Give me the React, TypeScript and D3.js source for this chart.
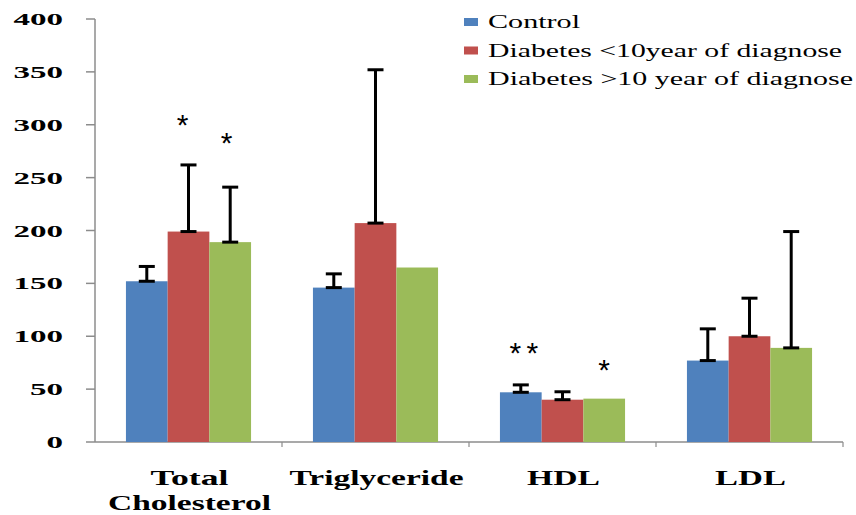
import React from "react";
import * as d3 from "d3";

const categories = ["Total Cholesterol", "Triglyceride", "HDL", "LDL"];
const categoryLines = [["Total", "Cholesterol"], ["Triglyceride"], ["HDL"], ["LDL"]];
const series = ["Control", "Diabetes <10year of diagnose", "Diabetes >10 year of diagnose"];
const controlValues = [152, 146, 47, 77];
const under10Values = [199, 207, 40, 100];
const over10Values = [189, 165, 41, 89];
const controlErr = [14, 13, 7, 30];
const under10Err = [63, 145, 7.5, 36];
const over10Err = [52, 0, 0, 110];
const yTicks = [0, 50, 100, 150, 200, 250, 300, 350, 400];
// significance marks: [categoryIndex, seriesIndex, label, value position]
const marks: [number, number, string, number][] = [
  [0, 1, "*", 302],
  [0, 2, "*", 285],
  [2, 0, "**", 87],
  [2, 2, "*", 71],
];
const markShift = [-6, -3.5, 3, 0];

const colors = ["#4F81BD", "#C0504D", "#9BBB59"];
const valuesBySeries = [controlValues, under10Values, over10Values];
const errBySeries = [controlErr, under10Err, over10Err];

const W = 856;
const H = 515;
const left = 95;
const right = 843;
const top = 19;
const bottom = 442;

const serifFont = "'Liberation Serif', 'Times New Roman', serif";

// measured stretched text widths
const xLabelWidths: Record<string, number> = {
  Total: 78,
  Cholesterol: 163,
  Triglyceride: 174,
  HDL: 73,
  LDL: 71,
};
const legendWidths = [92, 354, 365];

export default function App() {
  const y = d3.scaleLinear().domain([0, 400]).range([bottom, top]);
  const x0 = d3.scaleBand<string>().domain(categories).range([left, right]).padding(0);
  const x1 = d3
    .scaleBand<string>()
    .domain(series)
    .range([0, x0.bandwidth()])
    .paddingInner(0)
    .paddingOuter(0.742);
  const bw = x1.bandwidth();
  const axisColor = "#8C8C8C";
  const capW = 16;
  const starSize = 30;

  return (
    <svg
      width={W}
      height={H}
      style={{ position: "absolute", left: 0, top: 0, background: "#fff" }}
    >
      <rect x={0} y={0} width={W} height={H} fill="#fff" />
      {/* y axis */}
      <line x1={left} x2={left} y1={top} y2={bottom} stroke={axisColor} strokeWidth={1.5} />
      {yTicks.map((t) => (
        <g key={t}>
          <line x1={left - 9} x2={left} y1={y(t)} y2={y(t)} stroke={axisColor} strokeWidth={1.5} />
          <text
            x={63}
            y={y(t) + 6}
            textAnchor="end"
            fontFamily={serifFont}
            fontWeight="bold"
            fontSize={17}
            textLength={16.5 * String(t).length}
            lengthAdjust="spacingAndGlyphs"
            fill="#000"
          >
            {t}
          </text>
        </g>
      ))}
      {/* x axis */}
      <line x1={left} x2={right} y1={bottom} y2={bottom} stroke={axisColor} strokeWidth={1.5} />
      {categories.map((c) => (
        <line
          key={c}
          x1={(x0(c) as number) + x0.bandwidth()}
          x2={(x0(c) as number) + x0.bandwidth()}
          y1={bottom}
          y2={bottom + 5}
          stroke={axisColor}
          strokeWidth={1.2}
        />
      ))}
      {/* bars */}
      {series.map((s, si) =>
        categories.map((c, ci) => {
          const v = valuesBySeries[si][ci];
          const bx = (x0(c) as number) + (x1(s) as number);
          return (
            <rect
              key={s + c}
              x={bx}
              y={y(v)}
              width={bw}
              height={y(0) - y(v)}
              fill={colors[si]}
            />
          );
        })
      )}
      {/* error bars */}
      {series.map((s, si) =>
        categories.map((c, ci) => {
          const v = valuesBySeries[si][ci];
          const e = errBySeries[si][ci];
          if (!e) return null;
          const cx = (x0(c) as number) + (x1(s) as number) + bw / 2;
          return (
            <g key={"e" + s + c} stroke="#000" strokeWidth={3}>
              <line x1={cx} x2={cx} y1={y(v)} y2={y(v + e)} />
              <line x1={cx - capW / 2} x2={cx + capW / 2} y1={y(v + e)} y2={y(v + e)} />
              <line x1={cx - capW / 2} x2={cx + capW / 2} y1={y(v)} y2={y(v)} />
            </g>
          );
        })
      )}
      {/* significance marks */}
      {marks.map(([ci, si, label, pos], i) => {
        const cx =
          (x0(categories[ci]) as number) + (x1(series[si]) as number) + bw / 2 + markShift[i];
        const n = label.length;
        return label.split("").map((ch, k) => (
          <text
            key={"m" + i + "-" + k}
            x={cx + (k - (n - 1) / 2) * 17}
            y={y(pos) + starSize * 0.42}
            textAnchor="middle"
            fontFamily="'Liberation Sans', Arial, sans-serif"
            fontSize={starSize}
            fill="#000"
          >
            {ch}
          </text>
        ));
      })}
      {/* x labels */}
      {categories.map((c, ci) => {
        const cx = (x0(c) as number) + x0.bandwidth() / 2 + 1;
        return categoryLines[ci].map((line, li) => (
          <text
            key={c + li}
            x={cx}
            y={485 + li * 25}
            textAnchor="middle"
            fontFamily={serifFont}
            fontWeight="bold"
            fontSize={21}
            textLength={xLabelWidths[line]}
            lengthAdjust="spacingAndGlyphs"
            fill="#000"
          >
            {line}
          </text>
        ));
      })}
      {/* legend */}
      {series.map((s, si) => (
        <g key={"l" + s}>
          <rect x={464} y={18 + si * 28.5} width={14} height={8} fill={colors[si]} />
          <text
            x={488}
            y={28 + si * 28.5}
            fontFamily={serifFont}
            fontSize={19}
            textLength={legendWidths[si]}
            lengthAdjust="spacingAndGlyphs"
            fill="#000"
          >
            {s}
          </text>
        </g>
      ))}
    </svg>
  );
}
